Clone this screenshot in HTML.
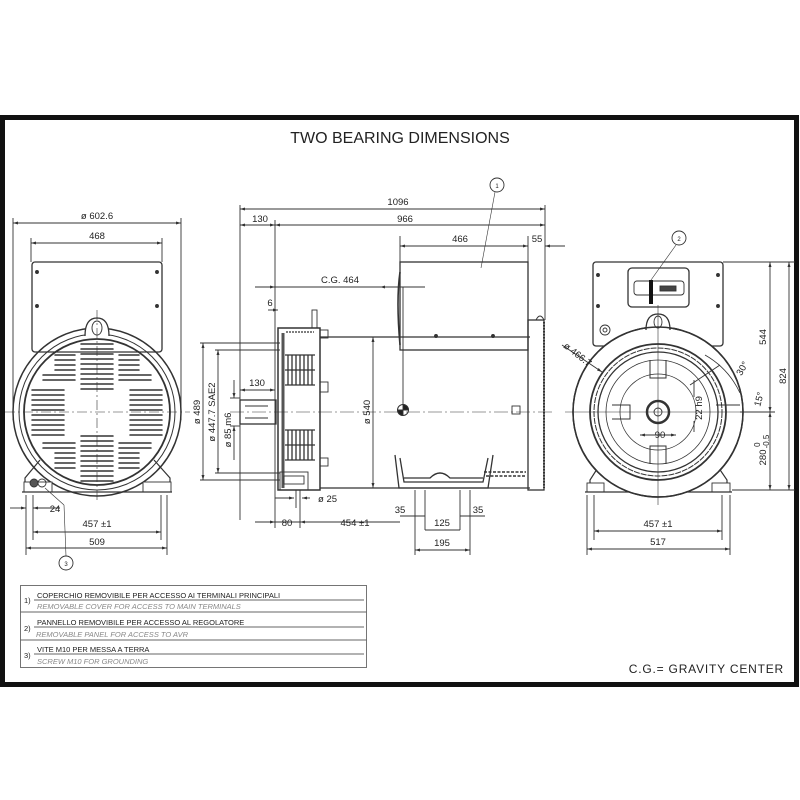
<!DOCTYPE html>
<html><head><meta charset="utf-8"><style>
html,body{margin:0;padding:0;background:#fff;}
svg{display:block;}
text{font-family:"Liberation Sans",sans-serif;fill:#222;}
</style></head><body>
<svg width="800" height="800" viewBox="0 0 800 800" xmlns="http://www.w3.org/2000/svg">
<defs>
<marker id="a" viewBox="0 0 10 10" refX="10" refY="5" markerWidth="9" markerHeight="5" orient="auto-start-reverse" markerUnits="userSpaceOnUse"><path d="M0,2 L10,5 L0,8 z" fill="#333"/></marker>
</defs>
<rect x="0" y="0" width="800" height="800" fill="#fff"/>
<rect x="2.5" y="117.5" width="794" height="567" fill="none" stroke="#111" stroke-width="5"/>
<text x="400" y="143" font-size="16" text-anchor="middle">TWO BEARING DIMENSIONS</text>

<g stroke="#333" stroke-width="0.9" fill="none">
<!-- ========== LEFT VIEW ========== -->
<line x1="13" y1="218" x2="13" y2="420"/><line x1="181" y1="218" x2="181" y2="420"/>
<line x1="13" y1="223" x2="181" y2="223" marker-start="url(#a)" marker-end="url(#a)"/>
<line x1="31" y1="238" x2="31" y2="262"/><line x1="162" y1="238" x2="162" y2="262"/>
<line x1="31" y1="243" x2="162" y2="243" marker-start="url(#a)" marker-end="url(#a)"/>
<rect x="32" y="262" width="130" height="90" rx="3" stroke-width="1.3"/>
<circle cx="37" cy="272" r="1.5" fill="#333"/><circle cx="157" cy="272" r="1.5" fill="#333"/><circle cx="37" cy="306" r="1.5" fill="#333"/><circle cx="157" cy="306" r="1.5" fill="#333"/>
<circle cx="97" cy="412" r="84" stroke-width="1.5"/>
<circle cx="97" cy="412" r="78" stroke-width="1"/>
<circle cx="97" cy="412" r="73" stroke-width="1.8"/>
<path d="M85,336 Q85,318 97,318 Q109,318 109,336" stroke-width="1.3" fill="#fff"/>
<ellipse cx="97" cy="328" rx="5" ry="7"/>
<path d="M25,492 L25,478 L40,460 M170,492 L170,478 L154,460" stroke-width="1.2"/>
<rect x="24" y="482" width="28" height="10" fill="#fff"/><rect x="143" y="482" width="28" height="10" fill="#fff"/>
<line x1="22" y1="492" x2="172" y2="492" stroke-width="1.2"/>
<circle cx="34" cy="483" r="4" fill="#555"/><circle cx="42" cy="483" r="4"/>
<line x1="5" y1="412" x2="190" y2="412" stroke-dasharray="10,3,2,3" stroke-width="0.6"/>
<line x1="97" y1="310" x2="97" y2="500" stroke-dasharray="10,3,2,3" stroke-width="0.6"/>
<g stroke-width="1.5" stroke-linecap="round">
<path d="M81,344h32M81,349h32M81,354h32M81,359h32M81,364h32M81,369h32M81,374h32M81,379h32M81,384h32M81,389h32"/>
<path d="M81,436h32M81,441h32M81,446h32M81,451h32M81,456h32M81,461h32M81,466h32M81,471h32M81,476h32M81,481h32"/>
<path d="M55,355h20M55,360h20M55,365h20M55,370h20M43,375h32M43,380h32"/>
<path d="M119,355h20M119,360h20M119,365h20M119,370h20M119,375h32M119,380h32"/>
<path d="M32,390h32M32,395h32M32,400h32M32,405h32M32,410h32M32,415h32M32,420h32M32,425h32M32,430h32M32,435h32"/>
<path d="M130,390h32M130,395h32M130,400h32M130,405h32M130,410h32M130,415h32M130,420h32M130,425h32M130,430h32M130,435h32"/>
<path d="M43,443h32M43,448h32M55,453h20M55,458h20M55,463h20M55,468h20"/>
<path d="M119,443h32M119,448h32M119,453h20M119,458h20M119,463h20M119,468h20"/>
</g>
<line x1="26" y1="495" x2="26" y2="555"/><line x1="33" y1="495" x2="33" y2="540"/><line x1="167" y1="495" x2="167" y2="555"/><line x1="161" y1="495" x2="161" y2="540"/>
<line x1="10" y1="508" x2="26" y2="508" marker-end="url(#a)"/><line x1="33" y1="508" x2="60" y2="508" marker-start="url(#a)"/>
<line x1="33" y1="532" x2="161" y2="532" marker-start="url(#a)" marker-end="url(#a)"/>
<line x1="26" y1="548" x2="167" y2="548" marker-start="url(#a)" marker-end="url(#a)"/>
<line x1="45" y1="488" x2="64" y2="505" stroke-width="0.6"/><line x1="64" y1="505" x2="66" y2="556" stroke-width="0.6"/>
<circle cx="66" cy="563" r="7"/>

<!-- ========== SIDE VIEW ========== -->
<line x1="240" y1="205" x2="240" y2="520"/><line x1="545" y1="205" x2="545" y2="320"/>
<line x1="275" y1="220" x2="275" y2="528"/>
<line x1="240" y1="209" x2="545" y2="209" marker-start="url(#a)" marker-end="url(#a)"/>
<line x1="240" y1="225" x2="275" y2="225" marker-start="url(#a)" marker-end="url(#a)"/>
<line x1="275" y1="225" x2="545" y2="225" marker-start="url(#a)" marker-end="url(#a)"/>
<line x1="400" y1="236" x2="400" y2="262"/><line x1="528" y1="236" x2="528" y2="262"/>
<line x1="400" y1="246" x2="528" y2="246" marker-start="url(#a)" marker-end="url(#a)"/>
<line x1="545" y1="246" x2="565" y2="246" marker-start="url(#a)"/>
<line x1="255" y1="287" x2="275" y2="287" marker-end="url(#a)"/><line x1="275" y1="287" x2="425" y2="287"/>
<line x1="400" y1="287" x2="380" y2="287" marker-end="url(#a)"/>
<line x1="268" y1="310" x2="278" y2="310" marker-end="url(#a)"/>
<rect x="400" y="262" width="128" height="88" stroke-width="1.3"/>
<circle cx="436" cy="336" r="1.5" fill="#333"/><circle cx="493" cy="336" r="1.5" fill="#333"/>
<path d="M400,272 Q396,300 400,345" stroke-width="1.6"/>
<line x1="320" y1="337" x2="530" y2="337" stroke-width="1.3"/>
<line x1="320" y1="488" x2="530" y2="488" stroke-width="1.3"/>
<rect x="278" y="328" width="42" height="162" stroke-width="1.5" fill="#fff"/>
<line x1="283" y1="333" x2="283" y2="488" stroke-width="3" stroke="#555"/>
<g stroke-width="1.3">
<path d="M288,355v30M292,355v30M296,355v30M300,355v30M304,355v30M308,355v30M312,355v30"/>
<path d="M288,430v30M292,430v30M296,430v30M300,430v30M304,430v30M308,430v30M312,430v30"/>
<path d="M285,355h30M285,370h30M285,385h30M285,430h30M285,445h30M285,460h30"/>
<path d="M286,332h28" stroke-dasharray="2,1"/>
</g>
<rect x="312" y="310" width="5" height="18"/>
<rect x="320" y="330" width="8" height="8"/><rect x="320" y="382" width="8" height="10"/><rect x="320" y="458" width="8" height="8"/>
<rect x="280" y="472" width="28" height="18"/><rect x="284" y="476" width="20" height="8"/>
<rect x="240" y="400" width="36" height="24" stroke-width="1.3"/>
<line x1="245" y1="406" x2="268" y2="406"/><line x1="245" y1="418" x2="268" y2="418"/>
<rect x="528" y="320" width="16" height="170" stroke-width="1.3"/>
<path d="M544,322v166" stroke-width="2" stroke-dasharray="1.5,1.5"/>
<path d="M536,320 Q540,312 544,320"/>
<line x1="230" y1="412" x2="555" y2="412" stroke-dasharray="14,3,2,3" stroke-width="0.6"/>
<circle cx="403" cy="410" r="5.5" stroke-width="1"/>
<path d="M403,410 L403,404.5 A5.5,5.5 0 0,1 408.5,410 Z M403,410 L403,415.5 A5.5,5.5 0 0,1 397.5,410 Z" fill="#222"/>
<line x1="403" y1="287" x2="403" y2="404"/>
<rect x="512" y="406" width="8" height="8"/>
<line x1="373" y1="337" x2="373" y2="488" marker-start="url(#a)" marker-end="url(#a)"/>
<path d="M395,455 L399,488 L488,488 L493,455 M400,458 L404,482 L483,482 L488,458 M404,478 L430,478 Q440,468 450,478 L483,478" stroke-width="1.3"/>
<path d="M484,472 h42 M486,476 h40" stroke-dasharray="3,1.5" stroke-width="1.4"/>
<line x1="200" y1="343" x2="280" y2="343"/><line x1="200" y1="480" x2="280" y2="480"/>
<line x1="215" y1="350" x2="280" y2="350"/><line x1="215" y1="473" x2="280" y2="473"/>
<line x1="230" y1="398" x2="240" y2="398"/><line x1="230" y1="426" x2="240" y2="426"/>
<line x1="203" y1="343" x2="203" y2="480" marker-start="url(#a)" marker-end="url(#a)"/>
<line x1="218" y1="350" x2="218" y2="473" marker-start="url(#a)" marker-end="url(#a)"/>
<line x1="234" y1="380" x2="234" y2="398" marker-end="url(#a)"/><line x1="234" y1="426" x2="234" y2="460" marker-start="url(#a)"/>
<line x1="240" y1="390" x2="275" y2="390" marker-start="url(#a)" marker-end="url(#a)"/>
<line x1="296" y1="490" x2="296" y2="508"/><line x1="300" y1="490" x2="300" y2="528"/>
<line x1="275" y1="498" x2="294" y2="498" marker-end="url(#a)"/><line x1="302" y1="498" x2="310" y2="498" marker-start="url(#a)"/>
<line x1="255" y1="522" x2="275" y2="522" marker-end="url(#a)"/><line x1="275" y1="522" x2="300" y2="522"/>
<line x1="300" y1="522" x2="400" y2="522" marker-start="url(#a)"/>
<line x1="415" y1="490" x2="415" y2="555"/><line x1="425" y1="490" x2="425" y2="530"/><line x1="460" y1="490" x2="460" y2="530"/><line x1="470" y1="490" x2="470" y2="555"/>
<line x1="400" y1="516" x2="425" y2="516"/><line x1="460" y1="516" x2="485" y2="516"/>
<line x1="425" y1="530" x2="460" y2="530"/>
<line x1="415" y1="550" x2="470" y2="550" marker-start="url(#a)" marker-end="url(#a)"/>
<line x1="481" y1="268" x2="495" y2="192" stroke-width="0.6"/>
<circle cx="497" cy="185" r="7"/>

<!-- ========== RIGHT VIEW ========== -->
<rect x="593" y="262" width="130" height="84" rx="3" stroke-width="1.3"/>
<circle cx="598" cy="275" r="1.5" fill="#333"/><circle cx="718" cy="275" r="1.5" fill="#333"/><circle cx="598" cy="306" r="1.5" fill="#333"/><circle cx="718" cy="306" r="1.5" fill="#333"/>
<rect x="628" y="268" width="61" height="39" rx="4" stroke-width="1.3"/>
<rect x="634" y="281" width="50" height="14" rx="3"/>
<line x1="651" y1="280" x2="651" y2="304" stroke="#111" stroke-width="4"/>
<rect x="660" y="286" width="16" height="5" fill="#444"/>
<line x1="651" y1="280" x2="676" y2="245" stroke-width="0.6"/>
<circle cx="679" cy="238" r="7"/>
<circle cx="605" cy="330" r="5"/><circle cx="605" cy="330" r="2"/>
<path d="M590,492 L590,480 L606,455 M727,492 L727,480 L710,455" stroke-width="1.2"/>
<rect x="587" y="483" width="17" height="9" fill="#fff"/><rect x="712" y="483" width="18" height="9" fill="#fff"/>
<line x1="585" y1="492" x2="732" y2="492" stroke-width="1.2"/>
<circle cx="658" cy="412" r="85" stroke-width="1.5" fill="#fff"/>
<path d="M646,330 Q646,314 658,314 Q670,314 670,330" stroke-width="1.3" fill="#fff"/>
<circle cx="658" cy="412" r="85" stroke-width="1.5"/>
<ellipse cx="658" cy="322" rx="4" ry="6"/>
<circle cx="658" cy="412" r="68" stroke-width="1.8"/>
<circle cx="658" cy="412" r="64" stroke-width="1" stroke-dasharray="6,1"/>
<circle cx="658" cy="412" r="60" stroke-width="1.3"/>
<circle cx="658" cy="412" r="52" stroke-width="0.8"/>
<circle cx="658" cy="412" r="38" stroke-width="0.8"/>
<circle cx="658" cy="412" r="11" stroke-width="2.5"/>
<circle cx="658" cy="412" r="4"/>
<path d="M650,360v18h16v-18M650,464v-18h16v18M612,405h18v14h-18" stroke-width="1"/>
<line x1="565" y1="412" x2="760" y2="412" stroke-width="0.6"/>
<line x1="658" y1="305" x2="658" y2="505" stroke-width="0.6"/>
<line x1="562" y1="345" x2="602" y2="372" marker-end="url(#a)"/>
<path d="M705,355 A85,85 0 0,1 740,393" stroke-width="0.8"/>
<line x1="720" y1="365" x2="690" y2="385"/><line x1="740" y1="405" x2="716" y2="405"/>
<line x1="694" y1="380" x2="694" y2="397"/><line x1="694" y1="421" x2="694" y2="432"/>
<line x1="640" y1="435" x2="676" y2="435" marker-start="url(#a)" marker-end="url(#a)"/>
<line x1="723" y1="262" x2="795" y2="262"/><line x1="732" y1="490" x2="795" y2="490"/>
<line x1="740" y1="412" x2="775" y2="412"/>
<line x1="770" y1="262" x2="770" y2="412" marker-start="url(#a)" marker-end="url(#a)"/>
<line x1="770" y1="412" x2="770" y2="490" marker-start="url(#a)" marker-end="url(#a)"/>
<line x1="789" y1="262" x2="789" y2="490" marker-start="url(#a)" marker-end="url(#a)"/>
<line x1="594" y1="495" x2="594" y2="540"/><line x1="722" y1="495" x2="722" y2="540"/>
<line x1="587" y1="495" x2="587" y2="555"/><line x1="730" y1="495" x2="730" y2="555"/>
<line x1="594" y1="531" x2="722" y2="531" marker-start="url(#a)" marker-end="url(#a)"/>
<line x1="587" y1="549" x2="730" y2="549" marker-start="url(#a)" marker-end="url(#a)"/>

<!-- legend -->
<rect x="20.5" y="585.5" width="346" height="82" stroke="#666"/>
<line x1="20" y1="612" x2="367" y2="612" stroke="#666"/>
<line x1="20" y1="640" x2="367" y2="640" stroke="#666"/>
<line x1="34" y1="600" x2="364" y2="600" stroke="#666"/>
<line x1="34" y1="627" x2="364" y2="627" stroke="#666"/>
<line x1="34" y1="654" x2="364" y2="654" stroke="#666"/>
</g>

<g font-size="9.5">
<text x="97" y="219" text-anchor="middle">ø 602.6</text>
<text x="97" y="239" text-anchor="middle">468</text>
<text x="55" y="512" text-anchor="middle">24</text>
<text x="97" y="527" text-anchor="middle">457 ±1</text>
<text x="97" y="545" text-anchor="middle">509</text>
<text x="66" y="566" text-anchor="middle" font-size="6">3</text>
<text x="398" y="205" text-anchor="middle">1096</text>
<text x="260" y="222" text-anchor="middle">130</text>
<text x="405" y="222" text-anchor="middle">966</text>
<text x="460" y="242" text-anchor="middle">466</text>
<text x="537" y="242" text-anchor="middle">55</text>
<text x="340" y="283" text-anchor="middle">C.G. 464</text>
<text x="270" y="306" text-anchor="middle">6</text>
<text x="257" y="386" text-anchor="middle">130</text>
<text x="497" y="188" text-anchor="middle" font-size="6">1</text>
<text x="679" y="241" text-anchor="middle" font-size="6">2</text>
<text transform="translate(200,412) rotate(-90)" text-anchor="middle">ø 489</text>
<text transform="translate(215,412) rotate(-90)" text-anchor="middle">ø 447.7  SAE2</text>
<text transform="translate(231,430) rotate(-90)" text-anchor="middle">ø 85  m6</text>
<text transform="translate(370,412) rotate(-90)" text-anchor="middle">ø 540</text>
<text x="318" y="502">ø 25</text>
<text x="287" y="526" text-anchor="middle">80</text>
<text x="355" y="526" text-anchor="middle">454 ±1</text>
<text x="400" y="513" text-anchor="middle">35</text>
<text x="442" y="526" text-anchor="middle">125</text>
<text x="478" y="513" text-anchor="middle">35</text>
<text x="442" y="546" text-anchor="middle">195</text>
<text transform="translate(563,347) rotate(38)">ø 466.7</text>
<text transform="translate(745,370) rotate(-60)" text-anchor="middle">30°</text>
<text transform="translate(762,400) rotate(-75)" text-anchor="middle">15°</text>
<text transform="translate(702,408) rotate(-90)" text-anchor="middle">22 h9</text>
<text x="660" y="438" text-anchor="middle">90</text>
<text transform="translate(766,337) rotate(-90)" text-anchor="middle">544</text>
<text transform="translate(786,376) rotate(-90)" text-anchor="middle">824</text>
<text transform="translate(766,450) rotate(-90)" text-anchor="middle">280 <tspan dy="-6" font-size="8">0</tspan><tspan dy="9" dx="-6" font-size="8">-0.5</tspan></text>
<text x="658" y="527" text-anchor="middle">457 ±1</text>
<text x="658" y="545" text-anchor="middle">517</text>
</g>

<g font-size="7.5">
<text x="24" y="603">1)</text>
<text x="37" y="598">COPERCHIO REMOVIBILE PER ACCESSO AI TERMINALI PRINCIPALI</text>
<text x="37" y="609" font-style="italic" style="fill:#888">REMOVABLE COVER  FOR ACCESS TO MAIN TERMINALS</text>
<text x="24" y="631">2)</text>
<text x="37" y="625">PANNELLO REMOVIBILE PER ACCESSO AL REGOLATORE</text>
<text x="36" y="637" font-style="italic" style="fill:#888">REMOVABLE PANEL FOR ACCESS TO AVR</text>
<text x="24" y="658">3)</text>
<text x="37" y="652">VITE M10 PER MESSA A TERRA</text>
<text x="37" y="664" font-style="italic" style="fill:#888">SCREW M10 FOR GROUNDING</text>
</g>
<text x="784" y="673" font-size="12" text-anchor="end" letter-spacing="0.8">C.G.= GRAVITY CENTER</text>
</svg>
</body></html>
